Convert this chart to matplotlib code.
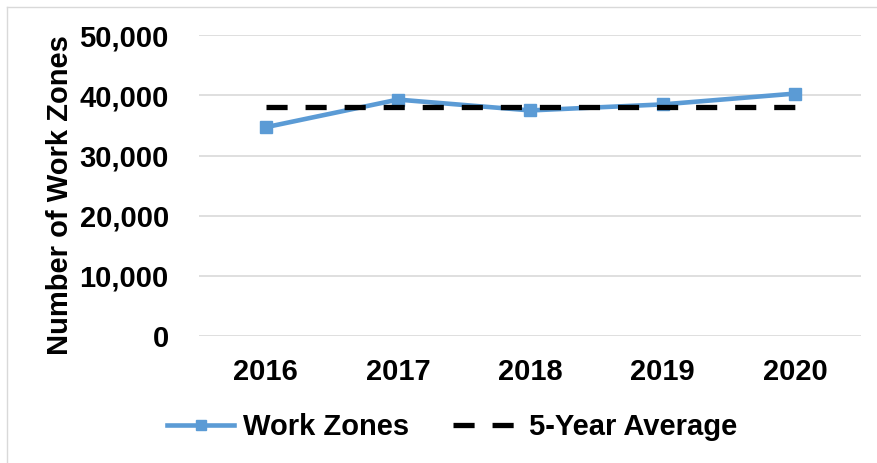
import matplotlib.pyplot as plt
from matplotlib.lines import Line2D

years = ["2016", "2017", "2018", "2019", "2020"]
work_zones = [34700, 39300, 37500, 38500, 40300]
five_year_avg = [38100, 38100, 38100, 38100, 38100]
y_ticks = [0, 10000, 20000, 30000, 40000, 50000]

plt.rcParams['font.family'] = ['Liberation Sans', 'DejaVu Sans']
plt.rcParams['font.weight'] = 'bold'

fig = plt.figure(figsize=(8.78, 4.63), dpi=100)
ax = fig.add_axes([0.227, 0.274, 0.754, 0.650])

x = list(range(len(years)))
ax.plot(x, work_zones, color="#5B9BD5", lw=3.3, marker="s", ms=8,
        label="Work Zones", zorder=3)
ax.plot(x, five_year_avg, color="black", lw=3.8, ls=(0, (4.0, 3.4)),
        label="5-Year Average", zorder=4)

ax.set_xlim(-0.5, 4.5)
ax.set_ylim(0, 50000)
ax.set_yticks(y_ticks)
ax.set_yticklabels([f"{v:,}" for v in y_ticks])
ax.set_xticks(x)
ax.set_xticklabels(years)
ax.grid(axis="y", color="#D9D9D9", lw=1.2)
ax.set_axisbelow(True)
for s in ax.spines.values():
    s.set_visible(False)
ax.tick_params(axis="both", length=0, labelsize=21)
ax.tick_params(axis="y", pad=22)
ax.tick_params(axis="x", pad=15.5)
ax.set_ylabel("Number of Work Zones", fontsize=21, fontweight="bold")
ax.yaxis.set_label_coords(-0.19, 0.47)

ax.legend(loc="center", bbox_to_anchor=(0.515, 0.078), bbox_transform=fig.transFigure,
          ncol=2, frameon=False, fontsize=21, handlelength=2.3, handletextpad=0.3,
          columnspacing=1.5, markerscale=0.9)

# light frame on top and left edge
fig.add_artist(Line2D([7/878, 7/878], [0, 1 - 7/463], color="#D9D9D9", lw=1))
fig.add_artist(Line2D([7/878, 1], [1 - 7/463, 1 - 7/463], color="#D9D9D9", lw=1))

fig.savefig("out.png", dpi=100)
